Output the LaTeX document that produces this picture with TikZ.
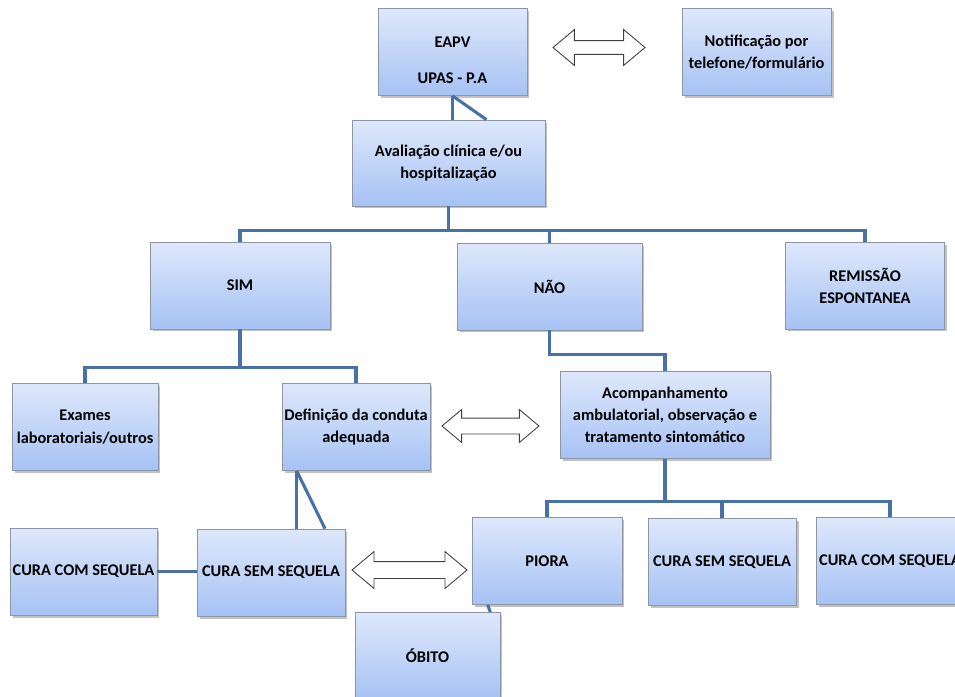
\documentclass[tikz,border=0pt]{standalone}
\usepackage{fontspec}
\setmainfont{Carlito}
\usetikzlibrary{shapes.arrows,shadows,calc}
\definecolor{boxtop}{RGB}{222,232,251}
\definecolor{boxbot}{RGB}{166,194,244}
\definecolor{linkblue}{RGB}{72,113,166}
\definecolor{boxedge}{RGB}{140,150,165}
\begin{document}
\begin{tikzpicture}[x=0.02cm,y=-0.02cm,
		every node/.style={font=\fontsize{9.3}{12.6}\selectfont\bfseries, align=center},
		stepbox/.style={draw=boxedge, line width=0.4pt, top color=boxtop, bottom color=boxbot,
			drop shadow={shadow xshift=0.05cm, shadow yshift=-0.05cm, fill=black!40, opacity=0.6},
			minimum height=1.74cm, inner sep=1pt},
		link/.style={draw=linkblue, line width=1.75pt},
		twoway/.style={shape=double arrow, draw=black!75, fill=white, line width=0.5pt,
			inner xsep=0pt, double arrow tip angle=80}]
		\useasboundingbox (0,0) rectangle (955,696);
		\clip (0,0) rectangle (955,696);
		% boxes
		\node[stepbox, minimum width=2.98cm,
			label={[yshift=-0.16cm, align=center]center:EAPV\\[8pt]UPAS - P.A}] (eapv) at (452.5,52) {};
		\node[stepbox, minimum width=2.98cm] (notif) at (756.5,52) {Notificação por\\telefone/formulário};
		\node[stepbox, minimum width=3.86cm, minimum height=1.72cm] (aval) at (448.5,163) {Avaliação clínica e/ou\\hospitalização};
		\node[stepbox, minimum width=3.6cm] (sim) at (240,285.5) {SIM};
		\node[stepbox, minimum width=3.7cm] (nao) at (549.5,286.5) {NÃO};
		\node[stepbox, minimum width=3.18cm] (remis) at (865,285.5) {REMISSÃO\\ESPONTANEA};
		\node[stepbox, minimum width=2.92cm] (exames) at (85,427) {Exames\\laboratoriais/outros};
		\node[stepbox, minimum width=2.96cm] (defin) at (356,427) {Definição da conduta\\adequada};
		\node[stepbox, minimum width=4.2cm] (acomp) at (665,415) {Acompanhamento\\ambulatorial, observação e\\tratamento sintomático};
		\node[stepbox, minimum width=2.94cm] (ccsL) at (83.5,571.5) {CURA COM SEQUELA};
		\node[stepbox, minimum width=2.96cm] (cssL) at (271,572.5) {CURA SEM SEQUELA};
		\node[stepbox, minimum width=3cm] (piora) at (547,561) {PIORA};
		\node[stepbox, minimum width=2.96cm] (cssR) at (722,562) {CURA SEM SEQUELA};
		\node[stepbox, minimum width=2.96cm] (ccsR) at (890,561) {CURA COM SEQUELA};
		\node[stepbox, minimum width=2.9cm] (obito) at (427.5,656) {ÓBITO};
		% hollow double arrows
		\node[twoway, minimum height=1.84cm, inner ysep=0.13cm, double arrow head extend=0.22cm] (arrTop) at (599,47.5) {};
		\node[twoway, minimum height=1.94cm, inner ysep=0.15cm, double arrow head extend=0.17cm] (arrMid) at (490.5,426) {};
		\node[twoway, minimum height=2.3cm, inner ysep=0.16cm, double arrow head extend=0.2cm] (arrBot) at (409.5,570) {};
		% connectors
		\draw[link] (eapv.south) -- (eapv.south |- aval.north);
		\draw[link] (eapv.south) -- ($(aval.north)+(38,0)$);
		\coordinate (hubA) at ($(aval.south)+(0,24)$);
		\draw[link] (aval.south) -- (hubA) -| (sim.north);
		\draw[link] (hubA) -| (nao.north);
		\draw[link] (hubA) -| (remis.north);
		\coordinate (hubS) at ($(sim.south)+(0,38)$);
		\draw[link] (sim.south) -- (hubS) -| (exames.north);
		\draw[link] (hubS) -| (defin.north);
		\coordinate (hubN) at ($(nao.south)+(0,24)$);
		\draw[link] (nao.south) -- (hubN) -| (acomp.north);
		\coordinate (hubC) at ($(acomp.south)+(0,43)$);
		\draw[link] (acomp.south) -- (hubC) -| (piora.north);
		\draw[link] (hubC) -| (cssR.north);
		\draw[link] (hubC) -| (ccsR.north);
		\coordinate (defA) at ($(defin.south west)+(15,0)$);
		\draw[link] (defA) -- (defA |- cssL.north);
		\draw[link] (defA) -- ($(cssL.north)+(54,0)$);
		\draw[link] (ccsL.east) -- (ccsL.east -| cssL.west);
		\draw[link] ($(piora.south west)+(16,0)$) -- ($(obito.north east)+(-10,0)$);
	\end{tikzpicture}
\end{document}
